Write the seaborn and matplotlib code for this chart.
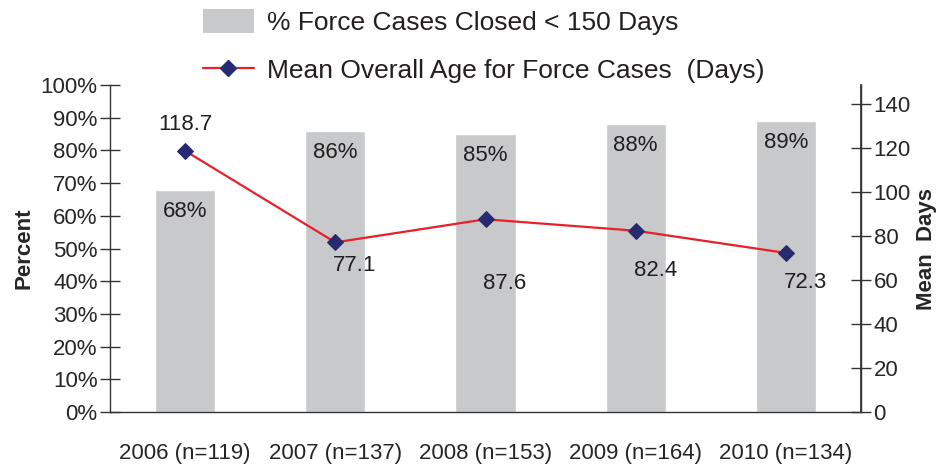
import numpy as np
import pandas as pd
import matplotlib.pyplot as plt
import seaborn as sns
from matplotlib import font_manager
from matplotlib.lines import Line2D
from matplotlib.patches import Patch

# chart values
years = ['2006 (n=119)', '2007 (n=137)', '2008 (n=153)', '2009 (n=164)', '2010 (n=134)']
pct_closed = [68, 86, 85, 88, 89]
mean_days = [118.7, 77.1, 87.6, 82.4, 72.3]

bar_color = '#c8c9cb'
line_color = '#e8202a'
marker_color = '#262a70'

sns.set_theme(style='white')
names = {f.name for f in font_manager.fontManager.ttflist}
fam = 'Liberation Sans Narrow' if 'Liberation Sans Narrow' in names else 'Liberation Sans'
plt.rcParams['font.family'] = [fam, 'DejaVu Sans']
plt.rcParams['text.color'] = '#231f20'

df = pd.DataFrame({'year': years, 'pct': pct_closed, 'days': mean_days})

fig = plt.figure(figsize=(9.51, 4.70), dpi=100)
ax = fig.add_axes([0.1157, 0.1234, 0.7897, 0.6956])

sns.barplot(data=df, x='year', y='pct', color=bar_color, width=0.4,
            saturation=1, ax=ax)
ax.set_ylim(0, 100)
ax.set_xlim(-0.5, 4.5)
ax.set_yticks(np.arange(0, 101, 10))
ax.set_yticklabels([f'{v}%' for v in range(0, 101, 10)], fontsize=16)
ax.set_ylabel('Percent', fontsize=16, fontweight='bold', labelpad=4)
ax.set_xlabel('')
ax.tick_params(axis='y', direction='inout', length=14, width=1, color='#333333', pad=2)
ax.set_xticks(range(len(years)))
ax.set_xticklabels(years, fontsize=16)
ax.set_xticks(np.arange(-0.5, len(years)), minor=True)
ax.tick_params(axis='x', which='major', length=0, pad=22)
ax.tick_params(axis='x', which='minor', direction='inout', length=14, width=1, color='#333333')
ax.spines['top'].set_visible(False)
for s in ['left', 'bottom', 'right']:
    ax.spines[s].set_color('#333333')
    ax.spines[s].set_linewidth(1)

# bar labels inside the top of each bar
for i, v in enumerate(pct_closed):
    ax.annotate(f'{v}%', (i, v), xytext=(0, -8), textcoords='offset points',
                ha='center', va='top', fontsize=16)

ax2 = ax.twinx()
sns.lineplot(x=np.arange(len(years)), y=mean_days, ax=ax2, color=line_color,
             linewidth=1.6, marker='D', markersize=8, markerfacecolor=marker_color,
             markeredgecolor=marker_color)
ax2.set_ylim(0, 148.6)
ax2.set_xlim(-0.5, 4.5)
ax2.set_yticks(range(0, 141, 20))
ax2.set_yticklabels([str(v) for v in range(0, 141, 20)], fontsize=16)
ax2.set_ylabel('Mean  Days', fontsize=16, fontweight='bold', labelpad=4)
ax2.tick_params(axis='y', direction='inout', length=14, width=1, color='#333333', pad=2)
for s in ['top', 'left', 'bottom']:
    ax2.spines[s].set_visible(False)
ax2.spines['right'].set_color('#333333')

label_offsets = [(0, 19), (14, -17), (14, -46), (14, -29), (14, -21)]
for i, (v, off) in enumerate(zip(mean_days, label_offsets)):
    ax2.annotate(f'{v}', (i, v), xytext=off, textcoords='offset points',
                 ha='center', va='center', fontsize=16)

handles = [Patch(facecolor=bar_color, edgecolor='none'),
           Line2D([0], [0], color=line_color, linewidth=1.6, marker='D',
                  markersize=8, markerfacecolor=marker_color, markeredgecolor=marker_color)]
fig.legend(handles, ['% Force Cases Closed < 150 Days', 'Mean Overall Age for Force Cases  (Days)'],
           loc='upper left', bbox_to_anchor=(0.2, 1.009), frameon=False, fontsize=19,
           handlelength=1.9, handleheight=1.0, labelspacing=0.85, handletextpad=0.5,
           borderaxespad=0.1)

fig.savefig('out.png', dpi=100)
